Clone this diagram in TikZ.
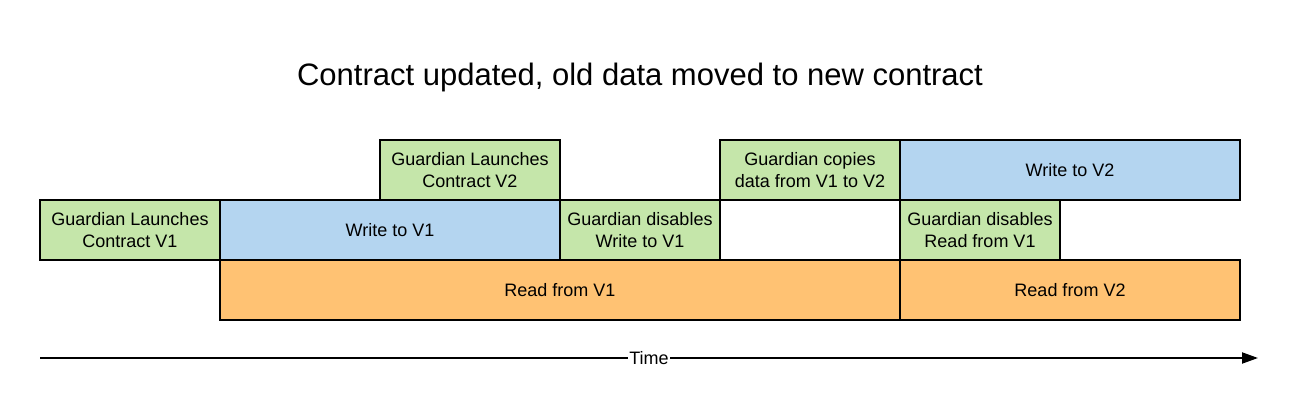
\documentclass[tikz,border=0pt]{standalone}
\usepackage{fontspec}
\setmainfont{Liberation Sans}
\usetikzlibrary{arrows.meta}
\definecolor{launchgreen}{RGB}{197,230,170}
\definecolor{writeblue}{RGB}{180,213,240}
\definecolor{readorange}{RGB}{255,194,115}
\begin{document}
\begin{tikzpicture}[x=1pt,y=-1pt]
    \tikzstyle{box}=[rectangle,draw=black,line width=2pt,minimum height=60pt,align=center,font=\fontsize{18}{22}\selectfont,inner sep=0pt]
    \tikzstyle{G}=[box,fill=launchgreen]
    \tikzstyle{W}=[box,fill=writeblue]
    \tikzstyle{R}=[box,fill=readorange]

    \useasboundingbox (0,0) rectangle (1300,411);

    % Title
    \node (title) at (640,77) {\fontsize{31}{36}\selectfont Contract updated, old data moved to new contract};

    % Read row
    \node [R,minimum width=680pt] (readA) at (560,290) {Read from V1};
    \node [R,minimum width=340pt] (readB) at (1070,290) {Read from V2};

    % Write row
    \node [G,minimum width=180pt] (launchA) at (130,230) {Guardian Launches\\Contract V1};
    \node [W,minimum width=340pt] (writeA) at (390,230) {Write to V1};
    \node [G,minimum width=160pt] (disableW) at (640,230) {Guardian disables\\Write to V1};
    \node [G,minimum width=160pt] (disableR) at (980,230) {Guardian disables\\Read from V1};

    % Top row
    \node [G,minimum width=180pt] (launchB) at (470,170) {Guardian Launches\\Contract V2};
    \node [G,minimum width=180pt] (copy) at (810,170) {Guardian copies\\data from V1 to V2};
    \node [W,minimum width=340pt] (writeB) at (1070,170) {Write to V2};

    % Time axis
    \coordinate (t0) at (40,358);
    \coordinate (t1) at (1258,358);
    \draw [line width=2pt,-{Triangle[length=16pt,width=11pt]}] (t0) -- (t1)
        node (time) [midway,fill=white,inner sep=1pt,font=\fontsize{18}{22}\selectfont] {Time};

\end{tikzpicture}
\end{document}
